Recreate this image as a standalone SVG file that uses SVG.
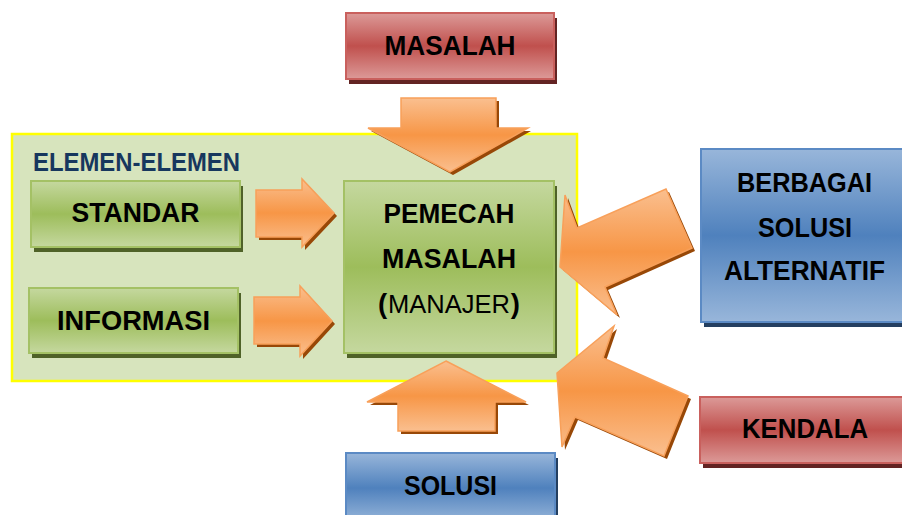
<svg xmlns="http://www.w3.org/2000/svg" width="902" height="515" viewBox="0 0 902 515">
<defs>
<linearGradient id="gGreen" x1="0" y1="0" x2="0" y2="1">
<stop offset="0" stop-color="#c5d89f"/><stop offset="0.5" stop-color="#9dbd5b"/><stop offset="1" stop-color="#c5d89f"/>
</linearGradient>
<linearGradient id="gRed" x1="0" y1="0" x2="0" y2="1">
<stop offset="0" stop-color="#dc9a98"/><stop offset="0.5" stop-color="#c0504d"/><stop offset="1" stop-color="#dc9a98"/>
</linearGradient>
<linearGradient id="gBlue" x1="0" y1="0" x2="0" y2="1">
<stop offset="0" stop-color="#98b6da"/><stop offset="0.5" stop-color="#4f81bd"/><stop offset="1" stop-color="#98b6da"/>
</linearGradient>
<linearGradient id="gOrange" x1="0" y1="0" x2="0" y2="1">
<stop offset="0" stop-color="#fabf8f"/><stop offset="0.5" stop-color="#f79646"/><stop offset="1" stop-color="#fabf8f"/>
</linearGradient>
<style>
.txt{font-family:"Liberation Sans",Arial,sans-serif;font-weight:bold;fill:#000;text-anchor:middle;font-size:27.5px}
.green{fill:url(#gGreen);stroke:#a4c165;stroke-width:2}
.red{fill:url(#gRed);stroke:#c9605d;stroke-width:2}
.blue{fill:url(#gBlue);stroke:#5b8ac4;stroke-width:2}
.shG{fill:#4f6228}
.shR{fill:#632423}
.shB{fill:#243f60}
.arrow{fill:url(#gOrange);stroke:#f8a05a;stroke-width:1.5;stroke-linejoin:miter}
.arrowSh{fill:#984807}
</style>
</defs>
<rect width="902" height="515" fill="#ffffff"/>

<g id="container">
<rect x="12" y="134" width="565" height="247" fill="#d7e4bd" stroke="#ffff00" stroke-width="2.5"/>
<text x="33" y="171" textLength="207" lengthAdjust="spacingAndGlyphs" style="font-family:'Liberation Sans',Arial,sans-serif;font-weight:bold;font-size:25px;fill:#17375e">ELEMEN-ELEMEN</text>
</g>

<g id="masalah">
<rect x="349" y="18" width="208" height="66" class="shR"/>
<rect x="346" y="13" width="208" height="66" class="red"/>
<text x="450" y="55" class="txt" textLength="131" lengthAdjust="spacingAndGlyphs">MASALAH</text>
</g>

<g id="standar">
<rect x="34" y="186" width="209" height="66" class="shG"/>
<rect x="31" y="181" width="209" height="66" class="green"/>
<text x="135.5" y="222" class="txt" textLength="128" lengthAdjust="spacingAndGlyphs">STANDAR</text>
</g>

<g id="informasi">
<rect x="32" y="293" width="209" height="65" class="shG"/>
<rect x="29" y="288" width="209" height="65" class="green"/>
<text x="133.5" y="330" class="txt" textLength="153" lengthAdjust="spacingAndGlyphs">INFORMASI</text>
</g>

<g id="pemecah">
<rect x="347" y="186" width="210" height="172" class="shG"/>
<rect x="344" y="181" width="210" height="172" class="green"/>
<text x="449" y="223" class="txt" textLength="131" lengthAdjust="spacingAndGlyphs">PEMECAH</text>
<text x="449" y="268" class="txt" textLength="134" lengthAdjust="spacingAndGlyphs">MASALAH</text>
<text x="378" y="313" class="txt" style="text-anchor:start">(</text>
<text x="449" y="313" class="txt" style="font-weight:normal;font-size:25.5px">MANAJER</text>
<text x="520" y="313" class="txt" style="text-anchor:end">)</text>
</g>

<g id="berbagai">
<rect x="704" y="154" width="210" height="173" class="shB"/>
<rect x="701" y="149" width="210" height="173" class="blue"/>
<text x="804.5" y="192" class="txt" textLength="135" lengthAdjust="spacingAndGlyphs">BERBAGAI</text>
<text x="805" y="237" class="txt" textLength="94" lengthAdjust="spacingAndGlyphs">SOLUSI</text>
<text x="804.5" y="280" class="txt" textLength="161" lengthAdjust="spacingAndGlyphs">ALTERNATIF</text>
</g>

<g id="kendala">
<rect x="703" y="402" width="210" height="66" class="shR"/>
<rect x="700" y="397" width="210" height="66" class="red"/>
<text x="805" y="438" class="txt" textLength="126" lengthAdjust="spacingAndGlyphs">KENDALA</text>
</g>

<g id="solusi">
<rect x="349" y="458" width="209" height="70" class="shB"/>
<rect x="346" y="453" width="209" height="70" class="blue"/>
<text x="450.5" y="495" class="txt" textLength="93" lengthAdjust="spacingAndGlyphs">SOLUSI</text>
</g>

<g id="connectors">
<g transform="translate(3,3)">
<polygon class="arrowSh" points="401,98 496,98 496,128 528,128 450,172 368,128 401,128"/>
<polygon class="arrowSh" points="256,190 302,190 302,179 334,213 302,247 302,237 256,237"/>
<polygon class="arrowSh" points="254,297 300,297 300,286 332,321 300,356 300,344 254,344"/>
<polygon class="arrowSh" points="446,361 526,402 495,402 495,431 398,431 398,402 367,402"/>
<polygon class="arrowSh" points="560,267 565,195 577,228 666,189 692,248 605,287 617,315"/>
<polygon class="arrowSh" points="557,373 614,326 603,358 688,396 664,456 575,417 562,447"/>
</g>
<polygon class="arrow" points="401,98 496,98 496,128 528,128 450,172 368,128 401,128"/>
<polygon class="arrow" points="256,190 302,190 302,179 334,213 302,247 302,237 256,237"/>
<polygon class="arrow" points="254,297 300,297 300,286 332,321 300,356 300,344 254,344"/>
<polygon class="arrow" points="446,361 526,402 495,402 495,431 398,431 398,402 367,402"/>
<polygon class="arrow" points="560,267 565,195 577,228 666,189 692,248 605,287 617,315"/>
<polygon class="arrow" points="557,373 614,326 603,358 688,396 664,456 575,417 562,447"/>
</g>
</svg>
